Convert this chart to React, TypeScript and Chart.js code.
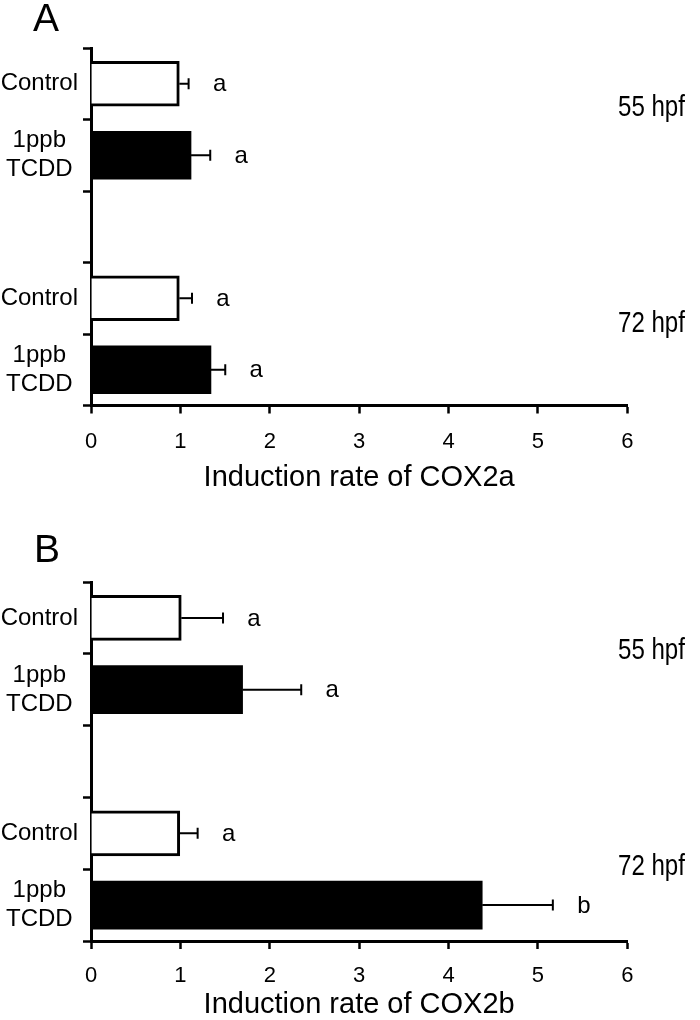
import React, { useEffect, useRef } from "react";
import { Chart, registerables } from "chart.js";

Chart.register(...registerables);

// ---------- data ----------
const categories: (string | string[])[] = ["Control", ["1ppb", "TCDD"], "", "Control", ["1ppb", "TCDD"]];
const stageLabels = ["55 hpf", "72 hpf"];
const xTicks = [0, 1, 2, 3, 4, 5, 6];

// COX2a (panel A): [55 hpf, 72 hpf]
const cox2aControlMean = [0.988, 0.988];
const cox2aControlErr = [0.104, 0.142];
const cox2aTcddMean = [1.119, 1.342];
const cox2aTcddErr = [0.215, 0.16];
const cox2aLetters = ["a", "a", "a", "a"]; // C55, T55, C72, T72

// COX2b (panel B)
const cox2bControlMean = [1.01, 0.993];
const cox2bControlErr = [0.467, 0.2];
const cox2bTcddMean = [1.696, 4.377];
const cox2bTcddErr = [0.656, 0.79];
const cox2bLetters = ["a", "a", "a", "b"];

const FONT = '"Liberation Sans", Arial, Helvetica, sans-serif';

Chart.defaults.font.family = FONT;
Chart.defaults.color = "#000";

type PanelCfg = {
  panel: string;
  title: string;
  cMean: number[];
  cErr: number[];
  tMean: number[];
  tErr: number[];
  letters: string[];
  top: number;
  axisHeight: number;
  xLabelOffset: number;
  titlePad: number;
  panelBaseline: number;
  panelLeft: number;
  hpfBaselines: number[];
};

const spread = (vals: number[]) => [vals[0], null, null, vals[1], null];
const spreadT = (vals: number[]) => [null, vals[0], null, null, vals[1]];

const annotPlugin = {
  id: "annot",
  afterDraw(chart: any, _args: any, opts: any) {
    const ctx = chart.ctx;
    const xs = chart.scales.x;
    const errSets = [spread(opts.cErr), spreadT(opts.tErr)];
    const letterSets = [
      [opts.letters[0], null, null, opts.letters[2], null],
      [null, opts.letters[1], null, null, opts.letters[3]],
    ];
    ctx.save();
    chart.data.datasets.forEach((ds: any, di: number) => {
      const meta = chart.getDatasetMeta(di);
      meta.data.forEach((bar: any, j: number) => {
        const v = ds.data[j];
        if (v === null || v === undefined) return;
        const e = errSets[di][j] as number;
        const x1 = xs.getPixelForValue(v);
        const x2 = xs.getPixelForValue(v + e);
        const y = bar.y;
        ctx.strokeStyle = "#000";
        ctx.lineWidth = 2;
        ctx.beginPath();
        ctx.moveTo(x1, y);
        ctx.lineTo(x2, y);
        ctx.moveTo(x2, y - 5.5);
        ctx.lineTo(x2, y + 5.5);
        ctx.stroke();
        const letter = letterSets[di][j];
        if (letter) {
          ctx.fillStyle = "#000";
          ctx.font = `24px ${FONT}`;
          ctx.textAlign = "center";
          ctx.textBaseline = "middle";
          ctx.fillText(letter, x2 + 31, y + 1);
        }
      });
    });
    // x tick labels from the scale's ticks
    ctx.fillStyle = "#000";
    ctx.font = `22px ${FONT}`;
    ctx.textAlign = "center";
    ctx.textBaseline = "middle";
    xs.ticks.forEach((t: any) => {
      ctx.fillText(String(t.value), xs.getPixelForValue(t.value), xs.top + opts.xLabelOffset);
    });
    // stage labels (narrow)
    ctx.font = `29px ${FONT}`;
    ctx.textAlign = "left";
    ctx.textBaseline = "alphabetic";
    opts.hpfBaselines.forEach((b: number, i: number) => {
      ctx.save();
      ctx.translate(618, b);
      ctx.scale(0.83, 1);
      ctx.fillText(stageLabels[i], 0, 0);
      ctx.restore();
    });
    // panel letter
    ctx.font = `39px ${FONT}`;
    ctx.fillText(opts.panel, opts.panelLeft, opts.panelBaseline);
    ctx.restore();
  },
};

function Panel({ cfg, top }: { cfg: PanelCfg; top: number }) {
  const ref = useRef<HTMLCanvasElement | null>(null);
  useEffect(() => {
    if (!ref.current) return;
    const chart = new Chart(ref.current, {
      type: "bar",
      data: {
        labels: categories as any,
        datasets: [
          {
            label: "Control",
            data: spread(cfg.cMean) as any,
            backgroundColor: "#ffffff",
            borderColor: "#000000",
            borderWidth: 3,
            barThickness: 45,
            grouped: false,
          } as any,
          {
            label: "1ppb TCDD",
            data: spreadT(cfg.tMean) as any,
            backgroundColor: "#000000",
            borderColor: "#000000",
            borderWidth: 0,
            barThickness: 48,
            grouped: false,
          } as any,
        ],
      },
      options: {
        indexAxis: "y",
        responsive: false,
        animation: false,
        events: [],
        layout: { padding: { top: cfg.top, left: 0, right: 72.7, bottom: 0 } },
        plugins: {
          legend: { display: false },
          tooltip: { enabled: false },
          annot: cfg as any,
        } as any,
        scales: {
          x: {
            type: "linear",
            min: xTicks[0],
            max: xTicks[xTicks.length - 1],
            afterFit: (s: any) => {
              s.height = cfg.axisHeight;
            },
            afterBuildTicks: (s: any) => {
              s.ticks = xTicks.map((v) => ({ value: v }));
            },
            ticks: {
              display: false,
              autoSkip: false,
              maxRotation: 0,
            },
            grid: {
              display: true,
              drawOnChartArea: false,
              drawTicks: true,
              tickLength: 8,
              tickWidth: 2.5,
              tickColor: "#000",
            },
            border: { display: true, color: "#000", width: 3 },
            title: {
              display: true,
              text: cfg.title,
              color: "#000",
              font: { family: FONT, size: 29 },
              padding: { top: 0, bottom: cfg.titlePad },
            },
          },
          y: {
            type: "category",
            offset: true,
            afterFit: (s: any) => {
              s.width = 91;
            },
            ticks: {
              autoSkip: false,
              color: "#000",
              crossAlign: "center",
              padding: 5,
              font: { family: FONT, size: 24, lineHeight: 1.2 },
            },
            grid: {
              display: true,
              offset: true,
              drawOnChartArea: false,
              drawTicks: true,
              tickLength: 8,
              tickWidth: 2.5,
              tickColor: "#000",
            },
            border: { display: true, color: "#000", width: 3 },
          },
        },
      } as any,
      plugins: [annotPlugin],
    });
    return () => chart.destroy();
  }, [cfg]);
  return (
    <canvas
      ref={ref}
      width={700}
      height={510}
      style={{ position: "absolute", left: 0, top, width: 700, height: 510, display: "block" }}
    />
  );
}

const panelA: PanelCfg = {
  panel: "A",
  title: "Induction rate of COX2a",
  cMean: cox2aControlMean,
  cErr: cox2aControlErr,
  tMean: cox2aTcddMean,
  tErr: cox2aTcddErr,
  letters: cox2aLetters,
  top: 48,
  axisHeight: 104.5,
  xLabelOffset: 36.5,
  titlePad: 15,
  panelBaseline: 30.7,
  panelLeft: 33,
  hpfBaselines: [116, 332],
};

const panelB: PanelCfg = {
  panel: "B",
  title: "Induction rate of COX2b",
  cMean: cox2bControlMean,
  cErr: cox2bControlErr,
  tMean: cox2bTcddMean,
  tErr: cox2bTcddErr,
  letters: cox2bLetters,
  top: 72,
  axisHeight: 79,
  xLabelOffset: 35,
  titlePad: -2,
  panelBaseline: 51.7,
  panelLeft: 34,
  hpfBaselines: [149, 365],
};

export default function App() {
  return (
    <div style={{ position: "absolute", left: 0, top: 0, width: 700, height: 1020, background: "#fff", overflow: "hidden" }}>
      <Panel cfg={panelA} top={0} />
      <Panel cfg={panelB} top={510} />
    </div>
  );
}
